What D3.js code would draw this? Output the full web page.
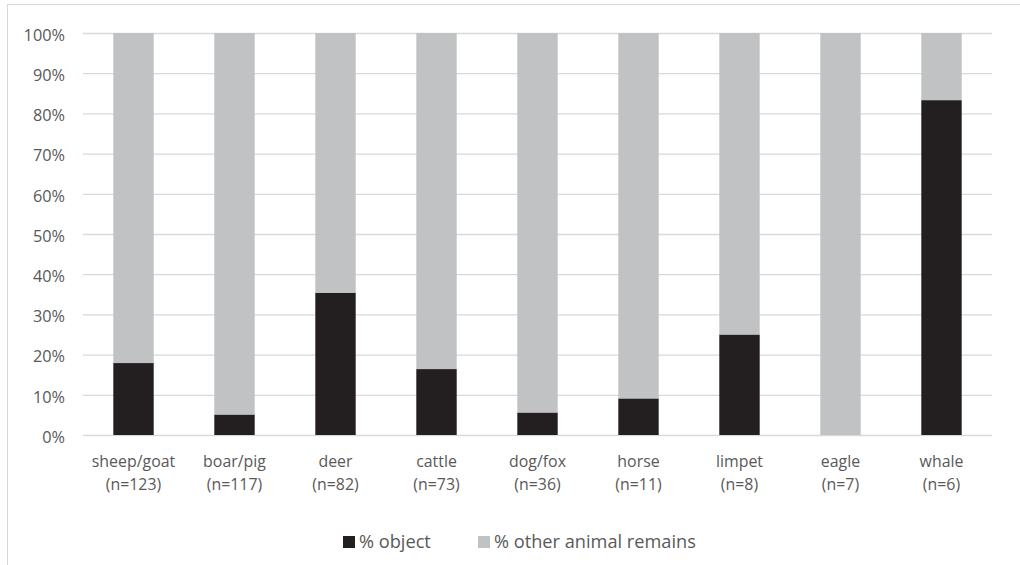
<!DOCTYPE html>
<html>
<head>
<meta charset="utf-8">
<script src="https://cdn.jsdelivr.net/npm/d3@7"></script>
<style>
  html, body { margin: 0; padding: 0; background: #fff; }
  svg { display: block; }
  text { font-family: "Open Sans", "Liberation Sans", sans-serif; fill: #595959; }
</style>
</head>
<body>
<svg id="chart" width="1020" height="565"></svg>
<script>
// Animal taxa with sample size
const categories = ["sheep/goat", "boar/pig", "deer", "cattle", "dog/fox", "horse", "limpet", "eagle", "whale"];
const sampleSizes = [123, 117, 82, 73, 36, 11, 8, 7, 6];
// Share (%) of remains worked into objects
const objectPct = [17.9, 5.1, 35.4, 16.4, 5.6, 9.1, 25.0, 0, 83.3];
// Remaining share (%) as other animal remains
const otherPct = objectPct.map(v => 100 - v);
const yTicks = [0, 10, 20, 30, 40, 50, 60, 70, 80, 90, 100];
const seriesNames = ["% object", "% other animal remains"];
const seriesColors = ["#231f20", "#c1c2c4"];

const svg = d3.select("#chart");

// outer chart frame
svg.append("rect")
  .attr("x", 7.5).attr("y", 4.5)
  .attr("width", 1020).attr("height", 570)
  .attr("fill", "none").attr("stroke", "#d9d9d9").attr("stroke-width", 1);

const plot = { left: 83, right: 992, top: 33, bottom: 435 };

const x = d3.scaleBand().domain(categories).range([plot.left, plot.right]).paddingInner(0.6).paddingOuter(0.3);
const y = d3.scaleLinear().domain([0, 100]).range([plot.bottom, plot.top]);

// gridlines + y labels
const yAxis = d3.axisLeft(y).tickValues(yTicks).tickSize(-(plot.right - plot.left)).tickFormat(d => d + "%").tickPadding(18);
const gy = svg.append("g").attr("transform", `translate(${plot.left},0)`).call(yAxis);
gy.select(".domain").remove();
gy.selectAll(".tick line").attr("stroke", "#d9d9d9").attr("stroke-width", 1.3);
gy.selectAll(".tick text").attr("font-size", 16.3).attr("fill", "#595959").attr("dy", "0.45em");

// stacked bars
const rows = categories.map((c, i) => ({ cat: c, obj: objectPct[i], other: otherPct[i] }));
const stack = d3.stack().keys(["obj", "other"])(rows);
svg.append("g").selectAll("g").data(stack).join("g")
  .attr("fill", (d, i) => seriesColors[i])
  .selectAll("rect").data(d => d).join("rect")
  .attr("x", d => x(d.data.cat))
  .attr("width", x.bandwidth())
  .attr("y", d => y(d[1]))
  .attr("height", d => y(d[0]) - y(d[1]));

// category labels (two lines)
const gx = svg.append("g");
categories.forEach((c, i) => {
  const t = gx.append("text")
    .attr("text-anchor", "middle")
    .attr("font-size", 15.9);
  t.append("tspan").attr("x", x(c) + x.bandwidth() / 2).attr("y", 467).text(c);
  t.append("tspan").attr("x", x(c) + x.bandwidth() / 2).attr("y", 490).text(`(n=${sampleSizes[i]})`);
});

// legend
const legendX = [343, 478];
const lg = svg.append("g");
seriesNames.forEach((name, i) => {
  lg.append("rect").attr("x", legendX[i]).attr("y", 536).attr("width", 12).attr("height", 12).attr("fill", seriesColors[i]);
  lg.append("text").attr("x", legendX[i] + 16).attr("y", 548).attr("font-size", 18.2).text(name);
});
</script>
</body>
</html>
